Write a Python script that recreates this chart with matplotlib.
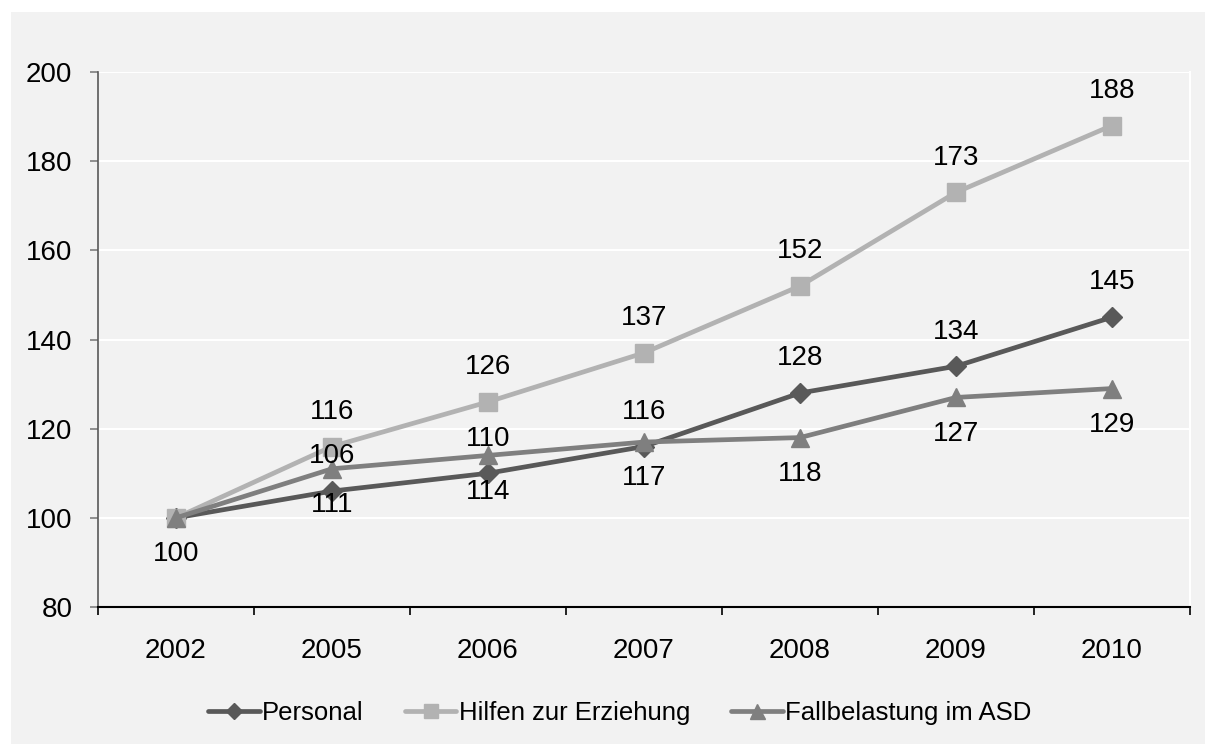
import numpy as np
import matplotlib
matplotlib.use('Agg')
import matplotlib.pyplot as plt
from matplotlib import font_manager
from matplotlib.patches import Rectangle

# ---------------- data
years = ['2002', '2005', '2006', '2007', '2008', '2009', '2010']
personal = [100, 106, 110, 116, 128, 134, 145]
hilfen = [100, 116, 126, 137, 152, 173, 188]
fallbelastung = [100, 111, 114, 117, 118, 127, 129]
series_names = ['Personal', 'Hilfen zur Erziehung', 'Fallbelastung im ASD']
yticks = [80, 100, 120, 140, 160, 180, 200]

# ---------------- fonts
installed = {f.name for f in font_manager.fontManager.ttflist}
num_font = 'Liberation Sans' if 'Liberation Sans' in installed else 'DejaVu Sans'
leg_font = 'Liberation Sans Narrow' if 'Liberation Sans Narrow' in installed else num_font
leg_size = 21 if leg_font.endswith('Narrow') else 18.5
plt.rcParams['font.family'] = [num_font, 'DejaVu Sans']

W, H = 1205, 744
bg = '#f2f2f2'
fig = plt.figure(figsize=(W/100, H/100), dpi=100, facecolor='white')
fig.patches.append(Rectangle((11/W, 0), 1-11/W, 1-12/H, transform=fig.transFigure,
                             facecolor=bg, edgecolor='none', zorder=-10))

ax = fig.add_axes([98/W, 137/H, (1190-98)/W, (607-72)/H])
ax.set_facecolor(bg)
ax.set_zorder(1)

x = np.arange(len(years)) + 0.5
styles = [
    (personal, '#595959', 'D', 10),
    (hilfen, '#b2b2b2', 's', 13),
    (fallbelastung, '#7f7f7f', '^', 13.5),
]
for (vals, col, mk, ms), name in zip(styles, series_names):
    ax.plot(x, vals, color=col, lw=3.4, marker=mk, ms=ms, mec=col, mfc=col,
            label=name, zorder=3, solid_capstyle='round')

# data labels: Personal and Hilfen above, Fallbelastung below
for i in range(len(years)):
    if i > 0:
        ax.annotate(str(personal[i]), (x[i], personal[i]), xytext=(0, 25),
                    textcoords='offset points', ha='center', va='center', fontsize=20)
        ax.annotate(str(hilfen[i]), (x[i], hilfen[i]), xytext=(0, 25),
                    textcoords='offset points', ha='center', va='center', fontsize=20)
    ax.annotate(str(fallbelastung[i]), (x[i], fallbelastung[i]), xytext=(0, -26),
                textcoords='offset points', ha='center', va='center', fontsize=20)

ax.set_xlim(0, len(years))
ax.set_ylim(80, 200)
ax.set_yticks(yticks)
ax.set_xticks(np.arange(len(years) + 1))
ax.set_xticklabels([])
ax.set_xticks(x, minor=True)
ax.set_xticklabels(years, minor=True)
ax.tick_params(axis='x', which='major', direction='out', length=6, width=1.2, color='black')
ax.tick_params(axis='x', which='minor', length=0, pad=22, labelsize=20)
ax.tick_params(axis='y', direction='out', length=5.5, width=1.2, color='#7f7f7f', pad=13, labelsize=20)

for yv in yticks[1:]:
    ax.axhline(yv, color='white', lw=1.5, zorder=1)

ax.spines['top'].set_visible(False)
ax.spines['right'].set_color('white')
ax.spines['right'].set_linewidth(1.5)
ax.spines['left'].set_color('#595959')
ax.spines['left'].set_linewidth(1.2)
ax.spines['bottom'].set_color('black')
ax.spines['bottom'].set_linewidth(1.5)
ax.spines['bottom'].set_zorder(4)

fig.legend(loc='center', bbox_to_anchor=(620/W, 1-713/H), ncol=3, frameon=False,
           prop={'family': leg_font, 'size': leg_size}, handlelength=2.0, handletextpad=0.1,
           columnspacing=1.6, markerscale=0.8)

fig.savefig('out.png', dpi=100, facecolor='white')
